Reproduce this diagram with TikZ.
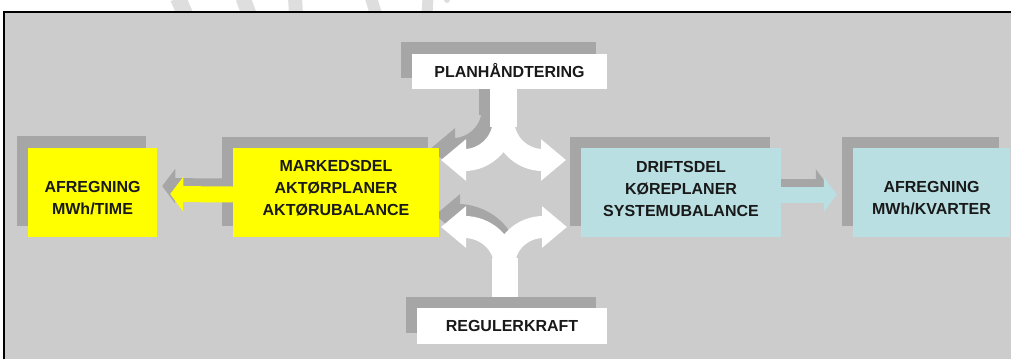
\documentclass[tikz,border=0pt]{standalone}
\usepackage{fontspec}
\setmainfont{Liberation Sans}
\usetikzlibrary{arrows.meta}
\pgfdeclarelayer{back}
\pgfsetlayers{back,main}
\definecolor{panelgray}{HTML}{CCCCCC}
\definecolor{shadegray}{HTML}{A6A6A6}
\definecolor{markgray}{HTML}{DEDEDE}
\definecolor{markyellow}{HTML}{FFFF00}
\definecolor{driftblue}{HTML}{B9DFE2}
\tikzset{
  box/.style={inner sep=0pt, minimum height=89pt},
  boxtext/.style={inner sep=0pt, align=center, text=black!90,
    font=\fontsize{16}{22}\selectfont\bfseries},
  fatarrow/.style={line width=16pt, -{Triangle[width=34pt,length=13pt]}},
  splitarm/.style={line width=22pt, shorten >=-25pt, -{Triangle[width=40pt,length=25pt]}},
}

\begin{document}
\begin{tikzpicture}[x=1pt,y=-1pt]
        \useasboundingbox (0,0) rectangle (1011,359);

        \node[box, fill=markyellow, minimum width=129pt,
          label={[boxtext, yshift=-6pt]center:{AFREGNING\\MWh/TIME}}] (tid) at (92.5,192) {};
        \node[box, fill=markyellow, minimum width=206pt,
          label={[boxtext, yshift=4pt]center:{MARKEDSDEL\\AKTØRPLANER\\AKTØRUBALANCE}}] (marked) at (336,192.5) {};
        \node[box, fill=driftblue, minimum width=200pt,
          label={[boxtext, yshift=4pt]center:{DRIFTSDEL\\KØREPLANER\\SYSTEMUBALANCE}}] (drift) at (681,192.5) {};
        \node[box, fill=driftblue, minimum width=157pt,
          label={[boxtext, yshift=-6pt]center:{AFREGNING\\MWh/KVARTER}}] (kvarter) at (931.5,192.5) {};
        \node[box, boxtext, fill=white, minimum width=195pt, minimum height=35pt] (plan) at (509.5,71) {PLANHÅNDTERING};
        \node[box, boxtext, fill=white, minimum width=190pt, minimum height=36pt] (regul) at (512,326) {REGULERKRAFT};

        % ends of the split arrows (base of the heads)
        \coordinate (planL) at (466,160);
        \coordinate (planR) at (541,160);
        \coordinate (regulL) at (466,227);
        \coordinate (regulR) at (542,227);

        \begin{pgfonlayer}{back}
        % watermark above the panel
        \draw[markgray, line width=16pt] (178,-2) -- (185,14);
        \draw[markgray, line width=15pt] (243,-2) -- (249,14);
        \draw[markgray, line width=14pt] (295,-2) -- (296,14);
        \draw[markgray, line width=12pt] (371,-2) -- (376,14);
        \draw[markgray, line width=11pt] (428,-2) -- (427,14);
        \fill[markgray] (447,0) circle (3);

        \fill[panelgray] (4,12) rectangle (1011,359);
        \draw[line width=1.6pt] (4,359) -- (4,12) -- (1011,12);

        \foreach \n in {tid,marked,drift,kvarter,plan,regul}
          \fill[shadegray] ([shift={(-11,-11)}]\n.south west) rectangle ([shift={(-11,-11)}]\n.north east);

        \draw[fatarrow, shadegray] ([shift={(-8,-6)}]marked.west) -- ([shift={(5,-6)}]tid.east);
        \draw[fatarrow, shadegray] ([shift={(-8,-6)}]drift.east) -- ([shift={(-24,-6)}]kvarter.west);
        \draw[shadegray, line width=27pt] ([xshift=-17pt]plan.south) -- ([shift={(-17,26)}]plan.south);
        \draw[splitarm, shadegray] ([shift={(-17,22)}]plan.south) .. controls +(0,20) and +(20,0) .. ([shift={(-11,-11)}]planL);
        \draw[splitarm, shadegray] ([shift={(-7.5,-56)}]regul.north) .. controls +(0,-20) and +(20,0) .. ([shift={(-6,-12)}]regulL);
        \end{pgfonlayer}

        \draw[fatarrow, markyellow] ([shift={(0,2)}]marked.west) -- ([shift={(13,2)}]tid.east);
        \draw[fatarrow, driftblue] ([shift={(0,2)}]drift.east) -- ([shift={(-16,2)}]kvarter.west);

        \draw[white, line width=27pt] ([xshift=-6pt]plan.south) -- ([shift={(-6,38)}]plan.south);
        \draw[splitarm, white] ([shift={(-6,33)}]plan.south) .. controls +(0,20) and +(20,0) .. (planL);
        \draw[splitarm, white] ([shift={(-6,33)}]plan.south) .. controls +(0,20) and +(-20,0) .. (planR);

        \draw[white, line width=26pt] ([shift={(-7.5,-11)}]regul.north) -- ([shift={(-7.5,-50)}]regul.north);
        \draw[splitarm, white] ([shift={(-7.5,-44)}]regul.north) .. controls +(0,-20) and +(20,0) .. (regulL);
        \draw[splitarm, white] ([shift={(-7.5,-44)}]regul.north) .. controls +(0,-20) and +(-20,0) .. (regulR);
    \end{tikzpicture}
\end{document}
